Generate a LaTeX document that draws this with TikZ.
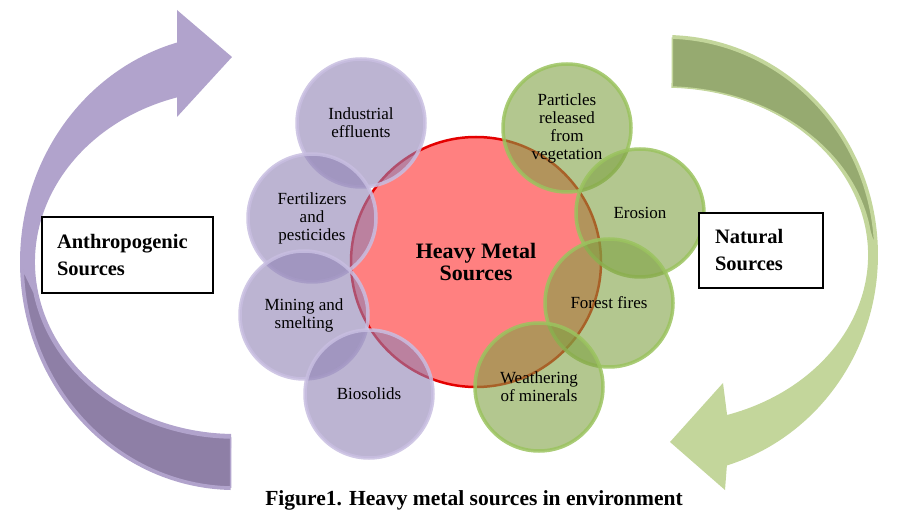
\documentclass[tikz,border=0pt]{standalone}
\usepackage{fontspec}
\setmainfont{Liberation Serif}
\definecolor{anthrofill}{RGB}{143,130,180}
\definecolor{anthroline}{RGB}{200,190,225}
\definecolor{natfill}{RGB}{128,162,68}
\definecolor{natline}{RGB}{155,195,95}
\definecolor{hmfill}{RGB}{255,128,128}
\definecolor{hmline}{RGB}{228,0,0}
\definecolor{larrowlight}{RGB}{177,163,204}
\definecolor{larrowdark}{RGB}{142,127,166}
\definecolor{rarrowlight}{RGB}{195,214,155}
\definecolor{rarrowdark}{RGB}{150,170,112}
\begin{document}
\begin{tikzpicture}[x=1pt,y=1pt,
    src/.style={circle,minimum size=128pt,inner sep=0pt,align=center,font=\fontsize{17}{18}\selectfont,line width=3.5pt,fill opacity=0.6,draw opacity=0.85,text opacity=1},
    anthro/.style={src,fill=anthrofill,draw=anthroline},
    nat/.style={src,fill=natfill,draw=natline},
    kind/.style={draw,line width=1.2pt,fill=white,align=left,font=\fontsize{20.5}{27}\selectfont\bfseries}]
    \useasboundingbox (0,0) rectangle (919,-529);
    \fill[larrowlight] (230.5,-490) arc[start angle=268.8,end angle=105.65,x radius=215,y radius=228] -- (177,-10) -- (232,-57) -- (177,-117) -- (177,-97.4) arc[start angle=106.86,end angle=268.9,x radius=200,y radius=172] -- cycle;
    \filldraw[fill=larrowdark,draw=larrowlight,line width=1.5pt] (230.6,-487) arc[start angle=268.8,end angle=182,x radius=212,y radius=225] -- (34.1,-292.6) arc[start angle=190,end angle=268.8,x radius=204,y radius=176] -- cycle;
    \fill[rarrowlight] (672.4,-35.1) arc[start angle=88,end angle=-73.1,x radius=213,y radius=220] -- (725,-490) -- (670,-442) -- (723,-383) -- (727.1,-415) arc[start angle=-72.2,end angle=88,x radius=203,y radius=168] -- cycle;
    \filldraw[fill=rarrowdark,draw=rarrowlight,line width=1.5pt] (672.3,-38.1) arc[start angle=88,end angle=2,x radius=210,y radius=217] -- (870,-231.6) arc[start angle=8,end angle=88,x radius=207,y radius=168] -- cycle;
    \node[circle,minimum size=250pt,fill=hmfill,draw=hmline,line width=2.5pt,align=center,font=\fontsize{22}{22}\selectfont\bfseries] (hm) at (476,-262) {Heavy Metal\\Sources};
    \foreach \nm/\cx/\cy/\txt in {ind/361/123/{Industrial\\effluents},fert/312/218/{Fertilizers\\and\\pesticides},mine/304/315/{Mining and\\smelting},bio/369/394/{Biosolids}}
        \node[anthro] (\nm) at (\cx,-\cy) {\txt};
    \foreach \nm/\cx/\cy/\txt in {part/567/128/{Particles\\released\\from\\vegetation},ero/640/213/{Erosion},fire/609/303/{Forest fires},weath/539/387/{Weathering\\of minerals}}
        \node[nat] (\nm) at (\cx,-\cy) {\txt};
    \node[kind,text width=141pt,inner xsep=15pt,minimum height=76pt] (anthbox) at (127.5,-255) {Anthropogenic\\Sources};
    \node[kind,text width=92pt,inner xsep=16pt,minimum height=75pt] (natbox) at (761,-250.5) {Natural\\Sources};
    \node[font=\fontsize{21.5}{24}\selectfont\bfseries] (cap) at (474,-500) {Figure1. Heavy metal sources in environment};
\end{tikzpicture}
\end{document}
